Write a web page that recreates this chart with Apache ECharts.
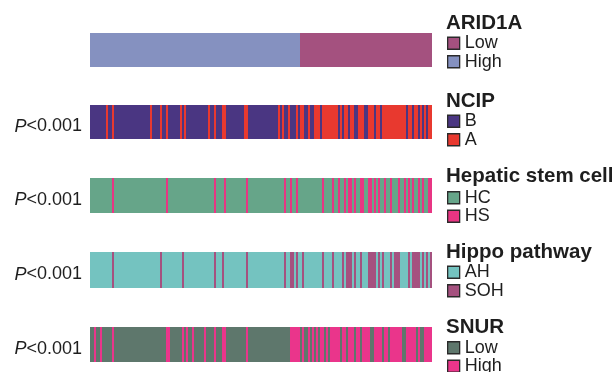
<!DOCTYPE html>
<html>
<head>
<meta charset="utf-8">
<script src="https://cdn.jsdelivr.net/npm/echarts@6/dist/echarts.min.js"></script>
<style>
  html, body { margin: 0; padding: 0; background: #ffffff; }
  #chart { width: 616px; height: 372px; }
</style>
</head>
<body>
<div id="chart"></div>
<script>
// Samples ordered by ARID1A expression (High first, then Low)
const sampleCount = 171;
const sampleIds = Array.from({ length: sampleCount }, (_, i) => 'S' + (i + 1));

// Each annotation track: legend levels, plus runs [start, end] of samples in the non-base level
const arid1aLevels = ['Low', 'High'];
const arid1aLowRuns = [[105, 170]];

const ncipLevels = ['B', 'A'];
const ncipARuns = [[8,8],[11,11],[30,30],[35,35],[38,38],[45,45],[47,47],[59,59],[62,62],[66,67],[77,78],
  [94,94],[96,96],[99,99],[103,103],[105,106],[109,109],[112,114],[116,123],[125,125],[127,128],[130,131],
  [134,136],[139,141],[143,144],[146,157],[159,160],[162,163],[165,165],[167,167],[169,170]];

const hepaticLevels = ['HC', 'HS'];
const hepaticHSRuns = [[11,11],[38,38],[62,62],[67,67],[78,78],[97,97],[100,100],[103,103],[116,116],
  [121,121],[124,124],[127,127],[129,130],[132,132],[135,136],[139,140],[142,142],[144,144],[147,147],
  [150,150],[154,154],[157,157],[159,159],[161,161],[164,164],[166,166],[169,170]];

const hippoLevels = ['AH', 'SOH'];
const hippoSOHRuns = [[11,11],[35,35],[46,46],[62,62],[66,66],[78,78],[97,97],[100,101],[103,103],[106,106],
  [116,116],[121,121],[126,126],[128,130],[132,132],[135,135],[139,142],[144,144],[146,146],[150,150],
  [152,154],[159,159],[161,164],[166,166],[168,168],[170,170]];

const snurLevels = ['Low', 'High'];
const snurHighRuns = [[2,2],[5,5],[11,11],[38,39],[46,46],[48,48],[51,51],[57,57],[62,62],[66,67],[78,78],
  [100,104],[106,106],[109,109],[111,111],[113,113],[115,116],[118,118],[120,124],[126,127],[129,131],
  [133,134],[136,139],[142,145],[147,148],[150,155],[158,162],[164,164],[167,170]];

const pValueLabels = [null, 'P<0.001', 'P<0.001', 'P<0.001', 'P<0.001'];

const tracks = [
  { title: 'ARID1A', levels: arid1aLevels, base: 'High', marked: 'Low', runs: arid1aLowRuns,
    colors: { Low: '#a4517f', High: '#8591c0' } },
  { title: 'NCIP', levels: ncipLevels, base: 'B', marked: 'A', runs: ncipARuns,
    colors: { B: '#4a3682', A: '#e8392f' } },
  { title: 'Hepatic stem cell', levels: hepaticLevels, base: 'HC', marked: 'HS', runs: hepaticHSRuns,
    colors: { HC: '#66a589', HS: '#e83583' } },
  { title: 'Hippo pathway', levels: hippoLevels, base: 'AH', marked: 'SOH', runs: hippoSOHRuns,
    colors: { AH: '#74c3c0', SOH: '#a5517f' } },
  { title: 'SNUR', levels: snurLevels, base: 'Low', marked: 'High', runs: snurHighRuns,
    colors: { Low: '#5e776c', High: '#ea358b' } }
];

// Layout of the strips and their legends
const stripBoxes = [
  { top: 33, height: 34 }, { top: 105, height: 34 }, { top: 178, height: 35 },
  { top: 252, height: 36 }, { top: 327, height: 35 }
];
const titleCenters = [23, 101, 176, 252.5, 327];
const legendTops = [34, 112, 188.5, 263, 338.5];
const FONT = '"Liberation Sans", Arial, Helvetica, sans-serif';

function expandTrack(t) {
  const lv = new Array(sampleCount).fill(t.base);
  t.runs.forEach(([a, b]) => { for (let i = a; i <= b; i++) lv[i] = t.marked; });
  return lv;
}

const grid = [], xAxis = [], yAxis = [], series = [], legend = [], title = [], graphic = [];

tracks.forEach((t, r) => {
  const box = stripBoxes[r];
  grid.push({ left: 90, width: 342, top: box.top, height: box.height });
  xAxis.push({ type: 'category', gridIndex: r, data: sampleIds, show: false, boundaryGap: true });
  yAxis.push({ type: 'value', gridIndex: r, min: 0, max: 1, show: false });
  const lv = expandTrack(t);
  t.levels.forEach(level => {
    series.push({
      type: 'bar',
      name: t.title + '|' + level,
      xAxisIndex: r, yAxisIndex: r,
      stack: 'track' + r,
      barCategoryGap: '0%',
      barWidth: '100%',
      silent: true,
      itemStyle: { color: t.colors[level] },
      data: lv.map(v => (v === level ? 1 : '-'))
    });
  });
  title.push({
    text: t.title, left: 446, top: titleCenters[r] - 10, padding: 0,
    textStyle: { fontFamily: FONT, fontSize: 20.5, fontWeight: 'bold', color: '#1e1e1e', lineHeight: 20 }
  });
  legend.push({
    data: t.levels.map(l => t.title + '|' + l),
    orient: 'vertical', left: 447, top: legendTops[r], height: 40, padding: 0, itemGap: 0,
    itemWidth: 12, itemHeight: 12, icon: 'rect', selectedMode: false,
    itemStyle: { borderColor: '#2a2a2a', borderWidth: 1.3 },
    textStyle: { fontFamily: FONT, fontSize: 18, color: '#1e1e1e', lineHeight: 18.5 },
    formatter: n => n.split('|')[1]
  });
  if (pValueLabels[r]) {
    const m = pValueLabels[r].match(/^(P)(.*)$/);
    graphic.push({
      type: 'text', x: 82, y: box.top + box.height / 2 + 4.5,
      style: {
        text: '{i|' + m[1] + '}{n|' + m[2] + '}',
        align: 'right', verticalAlign: 'middle', fill: '#1e1e1e',
        fontFamily: FONT, fontSize: 18,
        rich: {
          i: { fontStyle: 'italic', fontFamily: FONT, fontSize: 18, fill: '#1e1e1e' },
          n: { fontFamily: FONT, fontSize: 18, fill: '#1e1e1e' }
        }
      }
    });
  }
});

const chart = echarts.init(document.getElementById('chart'), null, { renderer: 'canvas' });
chart.setOption({
  backgroundColor: '#ffffff',
  animation: false,
  grid, xAxis, yAxis, series, legend, title, graphic
});
</script>
</body>
</html>
